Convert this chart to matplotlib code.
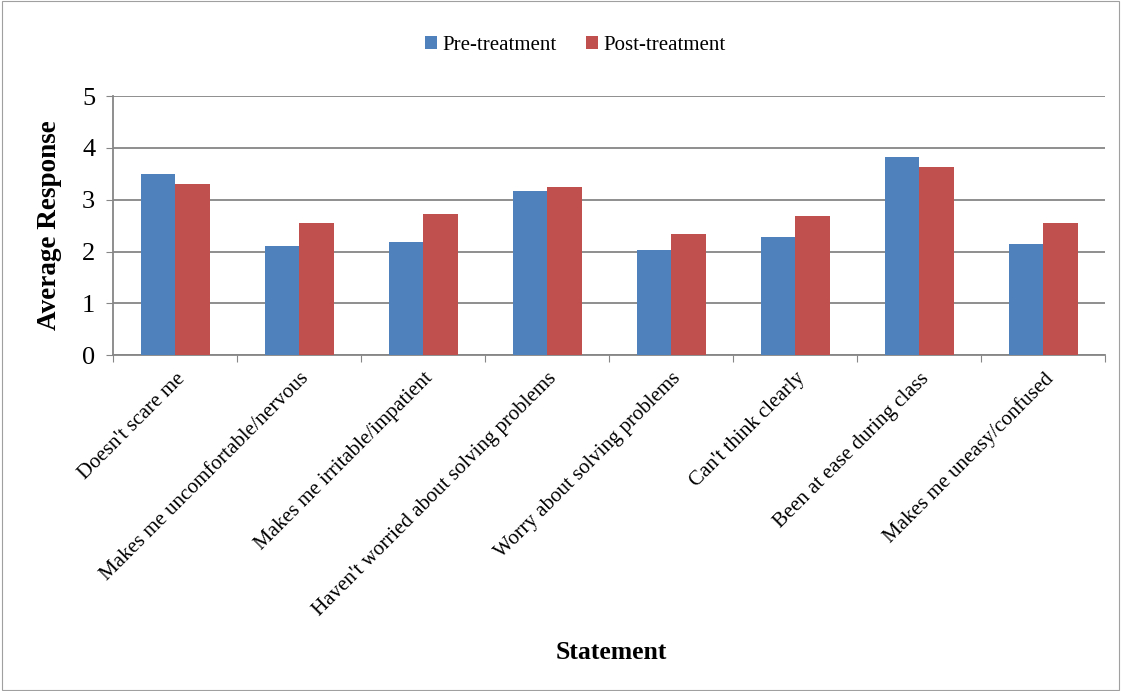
import numpy as np
import matplotlib
matplotlib.use("Agg")
import matplotlib.pyplot as plt
from matplotlib.patches import Rectangle

statements = [
    "Doesn't scare me",
    "Makes me uncomfortable/nervous",
    "Makes me irritable/impatient",
    "Haven't worried about solving problems",
    "Worry about solving problems",
    "Can't think clearly",
    "Been at ease during class",
    "Makes me uneasy/confused",
]
pre_treatment = [3.50, 2.11, 2.19, 3.17, 2.02, 2.28, 3.83, 2.14]
post_treatment = [3.30, 2.56, 2.72, 3.25, 2.33, 2.69, 3.64, 2.56]

plt.rcParams["font.family"] = ["Liberation Serif", "DejaVu Serif"]

fig = plt.figure(figsize=(11.21, 6.91), dpi=100)
ax = fig.add_axes([0.101, 0.486, 0.885, 0.375])

x = np.arange(len(statements))
w = 0.28
ax.bar(x - w / 2, pre_treatment, w, color="#4F81BD", label="Pre-treatment", zorder=3)
ax.bar(x + w / 2, post_treatment, w, color="#C0504D", label="Post-treatment", zorder=3)

ax.set_xlim(-0.5, len(statements) - 0.5)
ax.set_ylim(0, 5)
ax.set_yticks(range(6))
ax.tick_params(axis="y", labelsize=19, length=5, color="#868686", pad=8)
ax.grid(axis="y", color="#868686", linewidth=1.3, zorder=0)

# category ticks sit between the groups
ax.set_xticks(np.arange(-0.5, len(statements), 1.0), minor=False)
ax.set_xticklabels([])
ax.set_xticks(x, minor=True)
ax.set_xticklabels(statements, minor=True, rotation=45, ha="right",
                   rotation_mode="anchor", fontsize=15)
ax.tick_params(axis="x", which="major", length=5, color="#868686")
ax.tick_params(axis="x", which="minor", length=0, pad=10)

for side in ("top", "right"):
    ax.spines[side].set_visible(False)
for side in ("left", "bottom"):
    ax.spines[side].set_color("#868686")
    ax.spines[side].set_linewidth(1.3)

ax.set_ylabel("Average Response", fontsize=19.5, fontweight="bold", labelpad=14)
fig.text(0.545, 0.056, "Statement", ha="center", va="center",
         fontsize=18.5, fontweight="bold")

fig.legend(loc="center", bbox_to_anchor=(0.513, 0.934), ncol=2, frameon=False,
           fontsize=15, handlelength=0.6, handleheight=0.6,
           handletextpad=0.25, columnspacing=1.4)

fig.patches.append(Rectangle((0.002, 0.002), 0.996, 0.996, transform=fig.transFigure,
                             fill=False, edgecolor="#a0a0a0", linewidth=0.8))

fig.savefig("out.png", dpi=100)
